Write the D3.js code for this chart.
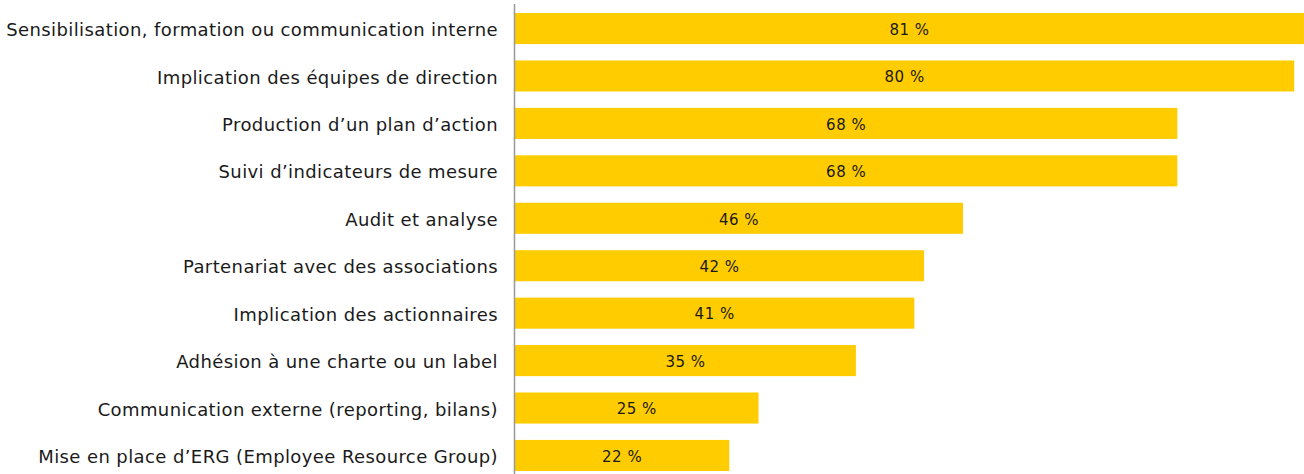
<!DOCTYPE html>
<html>
<head>
<meta charset="utf-8">
<script src="https://cdn.jsdelivr.net/npm/d3@7"></script>
<style>
  html, body { margin: 0; padding: 0; background: #fff; }
  svg { display: block; }
  .lbl { font-family: "DejaVu Sans", sans-serif; font-size: 18px; letter-spacing: 0.4px; fill: #1a1a1a; }
  .val { font-family: "DejaVu Sans", sans-serif; font-size: 15px; letter-spacing: 0.5px; fill: #1a1a1a; }
</style>
</head>
<body>
<svg id="chart" width="1304" height="474"></svg>
<script>
const categories = [
  "Sensibilisation, formation ou communication interne",
  "Implication des équipes de direction",
  "Production d’un plan d’action",
  "Suivi d’indicateurs de mesure",
  "Audit et analyse",
  "Partenariat avec des associations",
  "Implication des actionnaires",
  "Adhésion à une charte ou un label",
  "Communication externe (reporting, bilans)",
  "Mise en place d’ERG (Employee Resource Group)"
];
const values = [81, 80, 68, 68, 46, 42, 41, 35, 25, 22];

const W = 1304, H = 474;
const left = 515;
const svg = d3.select("#chart");

const x = d3.scaleLinear().domain([0, 100]).range([left, left + 974]);
const y = d3.scaleBand()
  .domain(categories)
  .range([13, 471])
  .paddingInner(0.345)
  .paddingOuter(0);

const rows = categories.map((c, i) => ({ cat: c, val: values[i] }));

svg.selectAll("rect.bar")
  .data(rows)
  .join("rect")
  .attr("class", "bar")
  .attr("x", x(0))
  .attr("y", d => y(d.cat))
  .attr("width", d => x(d.val) - x(0))
  .attr("height", y.bandwidth())
  .attr("fill", "#ffcc00");

svg.selectAll("text.val")
  .data(rows)
  .join("text")
  .attr("class", "val")
  .attr("x", d => (x(0) + x(d.val)) / 2)
  .attr("y", d => y(d.cat) + y.bandwidth() / 2)
  .attr("dy", "0.42em")
  .attr("text-anchor", "middle")
  .text(d => d.val + " %");

svg.selectAll("text.lbl")
  .data(rows)
  .join("text")
  .attr("class", "lbl")
  .attr("x", 498)
  .attr("y", d => y(d.cat) + y.bandwidth() / 2)
  .attr("dy", "0.42em")
  .attr("text-anchor", "end")
  .text(d => d.cat);

svg.append("line")
  .attr("x1", 514.5).attr("x2", 514.5)
  .attr("y1", 4).attr("y2", H)
  .attr("stroke", "#999")
  .attr("stroke-width", 1.5);
</script>
</body>
</html>
